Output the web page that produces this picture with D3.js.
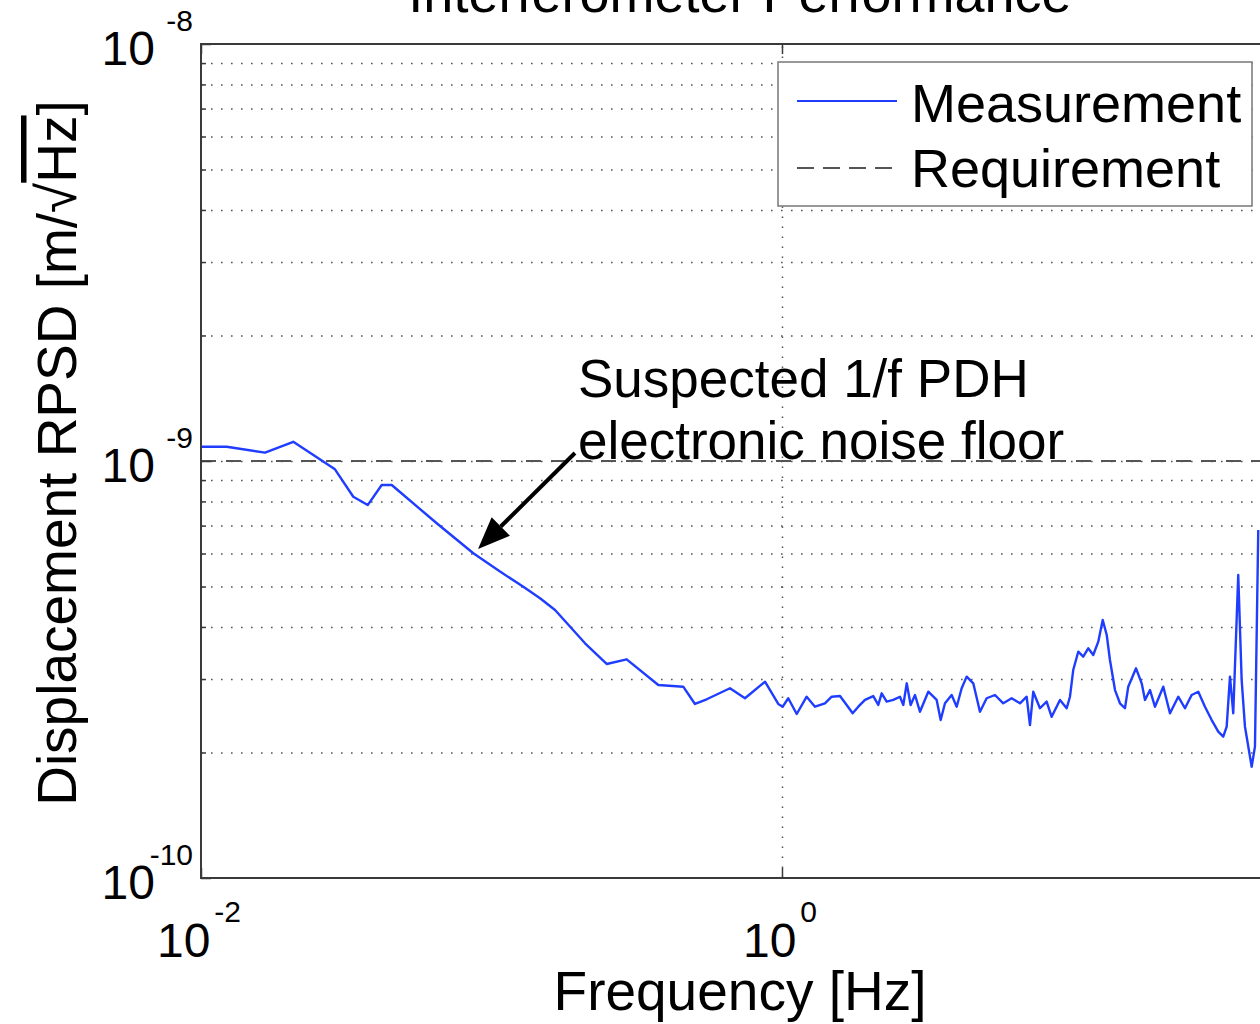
<!DOCTYPE html>
<html><head><meta charset="utf-8">
<script src="https://cdn.jsdelivr.net/npm/d3@7"></script>
<style>
body{margin:0;background:#fff;overflow:hidden}
svg{display:block}
text{font-family:"Liberation Sans",Arial,Helvetica,sans-serif;fill:#000}
</style></head><body>
<svg id="chart" width="1260" height="1024"></svg>
<script>
// ---- data ----
const titleText = "Interferometer Performance";
const xLabel = "Frequency [Hz]";
const seriesNames = ["Measurement", "Requirement"];
const xDomain = [0.01, 51.4];               // Hz
const yDomain = [1e-10, 1e-8];              // m/sqrt(Hz)
const xTickValues = [1e-2, 1e0, 1e2];
const xTickExponents = ["-2", "0", "2"];
const yTickValues = [1e-10, 1e-9, 1e-8];
const yTickExponents = ["-10", "-9", "-8"];
const yMinorMantissa = [2, 3, 4, 5, 6, 7, 8, 9];
const measFreq = [0.01,0.01226,0.01661,0.02078,0.02892,0.03344,0.03749,0.04188,0.04535,0.06478,
 0.08658,0.1070,0.1287,0.1469,0.1655,0.2099,0.2492,0.2920,0.3752,0.4572,
 0.5017,0.5506,0.6622,0.7458,0.874,0.971,1.006,1.051,1.124,1.216,
 1.299,1.406,1.483,1.584,1.670,1.751,1.831,1.931,2.062,2.145,
 2.204,2.293,2.416,2.548,2.616,2.688,2.773,2.870,2.985,3.189,
 3.408,3.518,3.640,3.838,3.994,4.155,4.323,4.555,4.804,5.065,
 5.410,5.777,6.176,6.596,6.955,7.140,7.329,7.728,8.149,8.478,
 9.057,9.550,9.804,10.06,10.47,10.89,11.33,11.79,12.27,12.71,
 13.12,13.46,14.01,14.57,15.16,15.56,16.55,17.31,17.77,18.49,
 19.23,20.54,21.66,23.13,24.39,25.72,27.11,28.58,30.15,31.76,
 33.04,33.95,34.85,35.77,37.21,38.23,39.25,41.39,42.48,43.61];
// measurement in units of 1e-9 m/sqrt(Hz)
const measRPSD_nm = [1.082,1.082,1.047,1.112,0.955,0.821,0.784,0.876,0.876,0.709,
 0.601,0.543,0.4995,0.4686,0.4392,0.3655,0.326,0.3345,0.2903,0.2876,
 0.2614,0.2683,0.2851,0.2698,0.2956,0.2614,0.2575,0.2698,0.2473,0.2721,
 0.2575,0.2624,0.2721,0.2731,0.2600,0.2483,0.2575,0.2673,0.2731,0.2600,
 0.2773,0.2648,0.2673,0.2721,0.2600,0.2930,0.2600,0.2747,0.2505,0.2797,
 0.2673,0.2392,0.2624,0.2747,0.2575,0.2851,0.3040,0.2930,0.2505,0.2698,
 0.2747,0.2624,0.2698,0.2624,0.2721,0.2327,0.2797,0.2553,0.2648,0.2436,
 0.2673,0.2553,0.2721,0.3153,0.3489,0.3394,0.3555,0.3425,0.3687,0.4156,
 0.3826,0.3333,0.2823,0.2624,0.2553,0.2876,0.3183,0.2930,0.2673,0.2823,
 0.2575,0.2876,0.2483,0.2721,0.2553,0.2747,0.2797,0.2575,0.2392,0.2243,
 0.2182,0.2306,0.3040,0.2483,0.5329,0.2984,0.2306,0.1849,0.2065,0.6832];
const reqFreq = [0.01, 51.4];
const reqRPSD = [1e-9, 1e-9];
const annotationLines = ["Suspected 1/f PDH", "electronic noise floor"];
const arrowTail = {f: 0.1938, v: 1.045e-9};
const arrowTip = {f: 0.0899, v: 0.615e-9};

// ---- layout ----
const L = 201, R = 1279, T = 44, B = 878;
const svg = d3.select("#chart");
const x = d3.scaleLog().domain(xDomain).range([L, R]);
const y = d3.scaleLog().domain(yDomain).range([B, T]);
const midX = (L + R) / 2;
const xTicksShown = xTickValues.filter(v => v >= xDomain[0] && v <= xDomain[1]);

svg.append("defs").append("clipPath").attr("id","clip")
  .append("rect").attr("x",L).attr("y",T).attr("width",R-L).attr("height",B-T);

// grid
const yMinor = [];
[1e-10, 1e-9].forEach(d => yMinorMantissa.forEach(m => yMinor.push(m*d)));
const gridG = svg.append("g");
gridG.append("g").attr("transform",`translate(${L},0)`)
  .call(d3.axisLeft(y).tickValues(yMinor.concat([1e-9])).tickSize(-(R-L)).tickFormat(""))
  .call(g => g.select(".domain").remove())
  .call(g => g.selectAll("line").attr("stroke","#555").attr("stroke-width",1.5).attr("stroke-dasharray","1.6,8.4"));
gridG.append("g").attr("transform",`translate(0,${B})`)
  .call(d3.axisBottom(x).tickValues([1e0]).tickSize(-(B-T)).tickFormat(""))
  .call(g => g.select(".domain").remove())
  .call(g => g.selectAll("line").attr("stroke","#555").attr("stroke-width",1.5).attr("stroke-dasharray","1.6,8.4"));

// requirement line
const line = d3.line().x(d => x(d[0])).y(d => y(d[1]));
const plotG = svg.append("g").attr("clip-path","url(#clip)");
plotG.append("path").datum(reqFreq.map((f,i)=>[f,reqRPSD[i]]))
  .attr("d", line).attr("fill","none").attr("stroke","#555").attr("stroke-width",2.2)
  .attr("stroke-dasharray","15,10");
// measurement
const n = Math.min(measFreq.length, measRPSD_nm.length);
const meas = d3.range(n).map(i => [measFreq[i], measRPSD_nm[i]*1e-9]);
plotG.append("path").datum(meas).attr("d", line).attr("fill","none")
  .attr("stroke","#1f3dff").attr("stroke-width",2.4).attr("stroke-linejoin","round");

// axes ticks (inward)
const axColor = "#3a3a3a";
function styleAx(g){ g.select(".domain").remove(); g.selectAll("line").attr("stroke",axColor).attr("stroke-width",1.5); }
svg.append("g").attr("transform",`translate(${L},0)`)
  .call(d3.axisLeft(y).tickValues(yTickValues).tickSize(-10).tickFormat("")).call(styleAx);
svg.append("g").attr("transform",`translate(${L},0)`)
  .call(d3.axisLeft(y).tickValues(yMinor).tickSize(-5).tickFormat("")).call(styleAx);
svg.append("g").attr("transform",`translate(0,${B})`)
  .call(d3.axisBottom(x).tickValues(xTicksShown).tickSize(-10).tickFormat("")).call(styleAx);
svg.append("g").attr("transform",`translate(0,${T})`)
  .call(d3.axisTop(x).tickValues(xTicksShown).tickSize(-10).tickFormat("")).call(styleAx);

// frame
svg.append("rect").attr("x",L).attr("y",T).attr("width",R-L).attr("height",B-T)
  .attr("fill","none").attr("stroke",axColor).attr("stroke-width",2);

// y tick labels
yTickValues.forEach((v,i) => {
  svg.append("text").attr("x",155).attr("y",y(v)+21).attr("text-anchor","end")
    .attr("font-size",48).text("10");
  svg.append("text").attr("x",193).attr("y",y(v)-13).attr("text-anchor","end")
    .attr("font-size",30).text(yTickExponents[i]);
});
// x tick labels
xTicksShown.forEach(v => {
  const i = xTickValues.indexOf(v);
  const t = svg.append("text").attr("x",x(v)-2).attr("y",957).attr("text-anchor","middle");
  t.append("tspan").attr("font-size",48).text("10");
  t.append("tspan").attr("font-size",30).attr("dx",4).attr("dy",-35).text(xTickExponents[i]);
});

// axis labels & title
svg.append("text").attr("x",midX).attr("y",1010).attr("text-anchor","middle")
  .attr("font-size",55).text(xLabel);
const yl = svg.append("text").attr("transform",`translate(76,453) rotate(-90)`)
  .attr("text-anchor","middle").attr("font-size",55);
yl.append("tspan").text("Displacement RPSD [m/");
yl.append("tspan").text("\u221A");
yl.append("tspan").style("text-decoration","overline").text("Hz");
yl.append("tspan").text("]");
svg.append("text").attr("x",midX).attr("y",12).attr("text-anchor","middle")
  .attr("font-size",54).text(titleText);

// legend
const lg = svg.append("g").attr("transform","translate(778,62)");
lg.append("rect").attr("width",474).attr("height",144).attr("fill","#fff")
  .attr("stroke","#777").attr("stroke-width",1.5);
lg.append("line").attr("x1",19).attr("x2",119).attr("y1",39).attr("y2",39)
  .attr("stroke","#1f3dff").attr("stroke-width",2);
lg.append("line").attr("x1",19).attr("x2",119).attr("y1",106).attr("y2",106)
  .attr("stroke","#555").attr("stroke-width",2.2).attr("stroke-dasharray","17,9");
lg.append("text").attr("x",133).attr("y",60).attr("font-size",54).text(seriesNames[0]);
lg.append("text").attr("x",133).attr("y",125).attr("font-size",54).text(seriesNames[1]);

// annotation
const tx = x(arrowTail.f), ty = y(arrowTail.v), hx = x(arrowTip.f), hy = y(arrowTip.v);
const ang = Math.atan2(hy-ty, hx-tx);
const hl = 32, hw = 13;
const bx = hx - hl*Math.cos(ang), by = hy - hl*Math.sin(ang);
svg.append("line").attr("x1",tx).attr("y1",ty).attr("x2",bx).attr("y2",by)
  .attr("stroke","#000").attr("stroke-width",4);
svg.append("path").attr("d",
  `M${hx},${hy}L${bx + hw*Math.sin(ang)},${by - hw*Math.cos(ang)}L${bx - hw*Math.sin(ang)},${by + hw*Math.cos(ang)}Z`)
  .attr("fill","#000");
annotationLines.forEach((s,i) => {
  svg.append("text").attr("x",tx+3).attr("y",ty-56+i*62).attr("font-size",53).text(s);
});
</script>
</body></html>
